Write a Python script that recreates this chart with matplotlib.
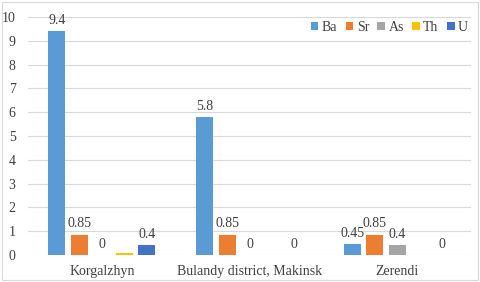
import numpy as np
import matplotlib.pyplot as plt
from matplotlib.patches import Rectangle

plt.rcParams['font.family'] = ['Liberation Serif', 'DejaVu Serif']

# Data
sites = ['Korgalzhyn', 'Bulandy district, Makinsk', 'Zerendi']
elements = ['Ba', 'Sr', 'As', 'Th', 'U']
ba = [9.4, 5.8, 0.45]
sr = [0.85, 0.85, 0.85]
as_ = [0, 0, 0.4]
th = [0.1, None, None]
u = [0.4, 0, None]
# data labels as shown (None = no label)
ba_lbl = ['9.4', '5.8', '0.45']
sr_lbl = ['0.85', '0.85', '0.85']
as_lbl = ['0', '0', '0.4']
th_lbl = [None, None, None]
u_lbl = ['0.4', '0', '0']

series = [ba, sr, as_, th, u]
labels = [ba_lbl, sr_lbl, as_lbl, th_lbl, u_lbl]
colors = ['#5B9BD5', '#ED7D31', '#A5A5A5', '#FFC000', '#4472C4']

fig = plt.figure(figsize=(4.8, 2.82), dpi=100)
ax = fig.add_axes([28 / 480, 27 / 282, 443 / 480, 238 / 282])

x = np.arange(len(sites))
step = 0.152
width = 0.115
for i, (vals, lbls, c, name) in enumerate(zip(series, labels, colors, elements)):
    pos = x + (i - 2) * step
    h = [v if v is not None else 0 for v in vals]
    ax.bar(pos, h, width, color=c, label=name, zorder=3)
    for p, v, t in zip(pos, h, lbls):
        if t is not None:
            ax.text(p, v + 0.18, t, ha='center', va='bottom', fontsize=10, color='#404040')

ax.set_xlim(-0.5, 2.5)
ax.set_ylim(0, 10)
ax.set_yticks(range(0, 11))
ax.set_xticks(x)
ax.set_xticklabels(sites)
ax.tick_params(axis='both', length=0, labelsize=10, colors='#404040')
ax.tick_params(axis='x', pad=7)
ax.tick_params(axis='y', pad=9)
ax.grid(True, axis='y', color='#D9D9D9', linewidth=0.8, zorder=0)
for s in ax.spines.values():
    s.set_visible(False)

ax.legend(loc='upper right', bbox_to_anchor=(1.022, 1.035), ncol=5, frameon=False,
          fontsize=10, handlelength=0.55, handleheight=0.55, handletextpad=0.25,
          columnspacing=0.6, labelcolor='#404040')

fig.patches.append(Rectangle((0.004, 0.006), 0.992, 0.988, transform=fig.transFigure,
                             fill=False, edgecolor='#D9D9D9', linewidth=0.8))

fig.savefig('out.png', dpi=100)
